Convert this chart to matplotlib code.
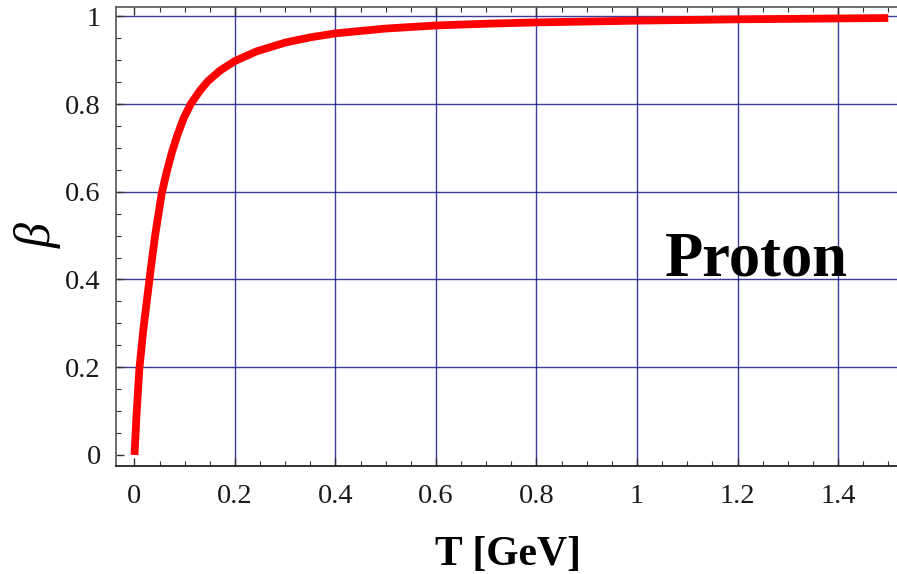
import matplotlib
matplotlib.use("Agg")
import matplotlib.pyplot as plt
from matplotlib.ticker import MultipleLocator

# beta vs kinetic energy
t_gev = [0, 0.004, 0.0096, 0.0175, 0.0255, 0.033, 0.041, 0.054, 0.064, 0.074,
         0.085, 0.098, 0.112, 0.130, 0.146, 0.170, 0.200, 0.243, 0.300, 0.350,
         0.400, 0.500, 0.600, 0.700, 0.800, 1.000, 1.200, 1.500]
beta = [0, 0.090, 0.195, 0.285, 0.360, 0.430, 0.500, 0.595, 0.645, 0.688,
        0.728, 0.768, 0.800, 0.830, 0.852, 0.876, 0.898, 0.920, 0.940, 0.952,
        0.961, 0.972, 0.979, 0.983, 0.986, 0.990, 0.993, 0.996]

x_ticks = [0, 0.2, 0.4, 0.6, 0.8, 1.0, 1.2, 1.4]
x_labels = ["0", "0.2", "0.4", "0.6", "0.8", "1", "1.2", "1.4"]
y_ticks = [0, 0.2, 0.4, 0.6, 0.8, 1.0]
y_labels = ["0", "0.2", "0.4", "0.6", "0.8", "1"]

SERIF = "Liberation Serif"
GRID = "#1a1a86"

fig = plt.figure(figsize=(8.97, 5.74), dpi=100)
ax = fig.add_axes([116 / 897, 1 - 466 / 574, 1 - 116 / 897, (466 - 7) / 574])

# grid only at the non-zero major ticks
for xv in x_ticks[1:]:
    ax.axvline(xv, color=GRID, lw=1.0, alpha=0.85, zorder=1)
for yv in y_ticks[1:]:
    ax.axhline(yv, color=GRID, lw=1.0, alpha=0.85, zorder=1)

ax.plot(t_gev, beta, color="#ff0000", lw=5.6, solid_capstyle="butt",
        solid_joinstyle="round", zorder=3)

ax.set_xlim(-0.0368, 1.5174)
ax.set_ylim(-0.0251, 1.0211)

ax.set_xticks(x_ticks)
ax.set_xticklabels(x_labels)
ax.set_yticks(y_ticks)
ax.set_yticklabels(y_labels)
ax.xaxis.set_minor_locator(MultipleLocator(0.05))
ax.yaxis.set_minor_locator(MultipleLocator(0.05))
ax.tick_params(which="both", direction="in", top=True, right=False,
               colors="#333333", labelcolor="#1a1a1a")
ax.tick_params(which="major", length=6, width=1.0)
ax.tick_params(which="minor", length=3.5, width=0.8)
ax.tick_params(axis="x", which="major", pad=13)
ax.tick_params(axis="y", which="major", pad=11)
for lab in ax.get_xticklabels() + ax.get_yticklabels():
    lab.set_fontfamily(SERIF)
    lab.set_fontsize(20.5)

ax.spines["right"].set_visible(False)
for side in ("left", "top"):
    ax.spines[side].set_color("#555555")
    ax.spines[side].set_linewidth(1.2)
ax.spines["bottom"].set_color("#111111")
ax.spines["bottom"].set_linewidth(1.2)

ax.text(1.056, 0.41, "Proton", family=SERIF, weight="bold", fontsize=45,
        ha="left", va="baseline", zorder=4)

fig.text(0.566, 1 - 565 / 574, "T [GeV]", family=SERIF, weight="bold",
         fontsize=30, ha="center", va="baseline")
fig.text(38 / 897, 1 - 236 / 574, "β", family=SERIF, style="italic",
         fontsize=36, rotation=90, ha="center", va="center")

fig.savefig("out.png", dpi=100)
